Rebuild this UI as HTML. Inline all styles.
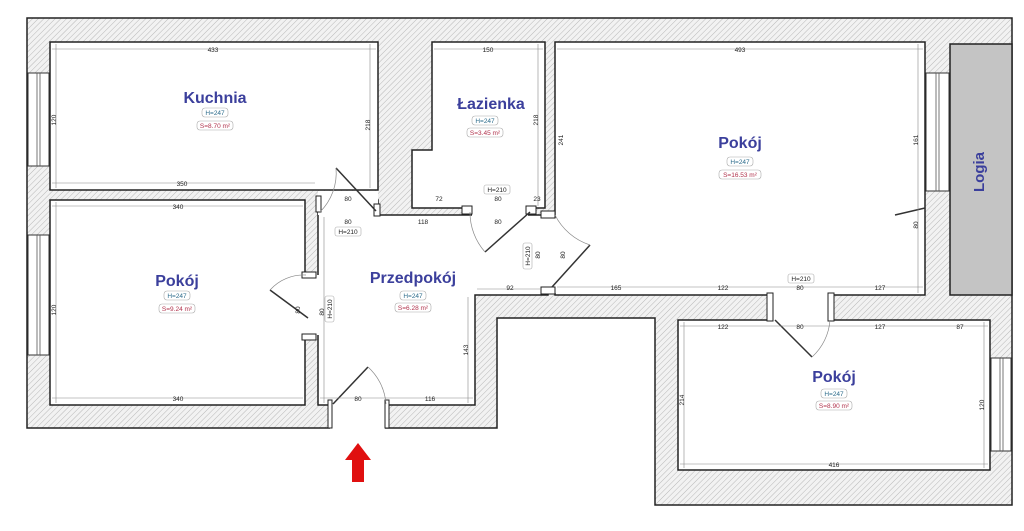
<!DOCTYPE html>
<html><head><meta charset="utf-8"><style>
html,body{margin:0;padding:0;background:#fff;}
svg{display:block}
.n{font-family:"Liberation Sans",sans-serif;font-weight:bold;fill:#3b3f9c;font-size:16px;text-anchor:middle}
.d{font-family:"Liberation Sans",sans-serif;font-size:6.5px;fill:#222;text-anchor:middle}
.h{font-family:"Liberation Sans",sans-serif;font-size:6.5px;fill:#2a6a8a;text-anchor:middle}
.s{font-family:"Liberation Sans",sans-serif;font-size:6.5px;fill:#b0304a;text-anchor:middle}
.dl{stroke:#888;stroke-width:0.6;fill:none}
</style></head><body>
<svg width="1024" height="531" viewBox="0 0 1024 531" xmlns="http://www.w3.org/2000/svg">
<defs>
<pattern id="ht" width="4" height="4" patternUnits="userSpaceOnUse" patternTransform="rotate(45)">
<rect width="4" height="4" fill="#f2f2f2"/><line x1="0" y1="0" x2="0" y2="4" stroke="#b8b8b8" stroke-width="1"/>
</pattern>
</defs>
<rect width="1024" height="531" fill="#fff"/>
<!-- outer walls -->
<polygon points="27,18 1012,18 1012,505 655,505 655,318 497,318 497,428 27,428" fill="url(#ht)" stroke="#222" stroke-width="1.5"/>
<!-- logia -->
<rect x="950" y="44" width="62" height="251" fill="#c4c4c4" stroke="#222" stroke-width="1.5"/>
<text x="984" y="172" transform="rotate(-90 984 172)" class="n" style="fill:#3b3f9c;font-size:15px">Logia</text>
<!-- rooms -->
<g fill="#fff" stroke="#222" stroke-width="1.5">
<rect x="50" y="42" width="328" height="148"/>
<polygon points="432,42 545,42 545,208 412,208 412,150 432,150"/>
<rect x="555" y="42" width="370" height="253"/>
<rect x="50" y="200" width="255" height="205"/>
<polygon points="318,200 378,200 378,215 548,215 548,295 475,295 475,405 318,405"/>
<rect x="678" y="320" width="312" height="150"/>
</g>
<!-- door openings (white gaps) -->
<g fill="#fff">
<rect x="318" y="191" width="60" height="24"/>
<rect x="472" y="206" width="56" height="10"/>
<rect x="540" y="218" width="18" height="75"/>
<rect x="302" y="275" width="20" height="60"/>
<rect x="330" y="400" width="55" height="30"/>
<rect x="770" y="293" width="60" height="30"/>
</g>
<!-- door posts -->
<g fill="#fff" stroke="#222" stroke-width="1">
<rect x="316" y="196" width="5" height="16"/><rect x="374" y="204" width="6" height="12"/>
<rect x="462" y="206" width="10" height="8"/><rect x="526" y="206" width="10" height="8"/>
<rect x="541" y="211" width="14" height="7"/><rect x="541" y="287" width="14" height="7"/>
<rect x="302" y="272" width="14" height="6"/><rect x="302" y="334" width="14" height="6"/>
<rect x="328" y="400" width="4" height="28"/><rect x="385" y="400" width="4" height="28"/>
<rect x="767" y="293" width="6" height="28"/><rect x="828" y="293" width="6" height="28"/>
</g>
<!-- door leaves -->
<g stroke="#333" stroke-width="1.5" fill="none">
<line x1="376" y1="211" x2="336" y2="168"/><line x1="530" y1="212" x2="485" y2="252"/>
<line x1="552" y1="287" x2="590" y2="245"/><line x1="308" y1="318" x2="270" y2="290"/>
<line x1="333" y1="404" x2="368" y2="367"/><line x1="775" y1="320" x2="812" y2="357"/>
<line x1="925" y1="208" x2="895" y2="215"/>
</g>
<g stroke="#888" stroke-width="0.7" fill="none">
<path d="M336,168 A55,55 0 0 1 320,212"/><path d="M485,252 A60,60 0 0 1 470,212"/>
<path d="M590,245 A60,60 0 0 1 555,215"/><path d="M270,290 A45,45 0 0 1 306,275"/>
<path d="M368,367 A55,55 0 0 1 386,404"/><path d="M812,357 A55,55 0 0 0 830,320"/>
</g>
<!-- windows -->
<g fill="#fff" stroke="#333" stroke-width="1">
<rect x="28" y="73" width="21" height="93"/><rect x="28" y="235" width="21" height="120"/>
<rect x="926" y="73" width="23" height="118"/><rect x="991" y="358" width="20" height="93"/>
</g>
<g stroke="#555" stroke-width="0.8">
<line x1="37" y1="73" x2="37" y2="166"/><line x1="40" y1="73" x2="40" y2="166"/>
<line x1="37" y1="235" x2="37" y2="355"/><line x1="40" y1="235" x2="40" y2="355"/>
<line x1="936" y1="73" x2="936" y2="191"/><line x1="939" y1="73" x2="939" y2="191"/>
<line x1="1000" y1="358" x2="1000" y2="451"/><line x1="1003" y1="358" x2="1003" y2="451"/>
</g>
<!-- dimension lines -->
<g class="dl">
<line x1="52" y1="49" x2="376" y2="49"/><line x1="52" y1="183" x2="315" y2="183"/>
<line x1="52" y1="206" x2="303" y2="206"/><line x1="52" y1="398" x2="303" y2="398"/>
<line x1="434" y1="49" x2="543" y2="49"/><line x1="557" y1="49" x2="923" y2="49"/>
<line x1="680" y1="326" x2="988" y2="326"/><line x1="680" y1="464" x2="988" y2="464"/>
<line x1="557" y1="287" x2="923" y2="287"/><line x1="320" y1="398" x2="473" y2="398"/>
<line x1="56" y1="44" x2="56" y2="188"/><line x1="370" y1="44" x2="370" y2="188"/>
<line x1="56" y1="202" x2="56" y2="403"/><line x1="324" y1="217" x2="324" y2="403"/>
<line x1="538" y1="44" x2="538" y2="206"/><line x1="918" y1="44" x2="918" y2="293"/>
<line x1="684" y1="322" x2="684" y2="468"/><line x1="984" y1="322" x2="984" y2="468"/>
<line x1="468" y1="297" x2="468" y2="403"/><line x1="477" y1="289" x2="540" y2="289"/>
</g>
<g class="d">
<text x="213" y="52">433</text><text x="182" y="186">350</text><text x="178" y="209">340</text><text x="178" y="401">340</text>
<text x="488" y="52">150</text><text x="740" y="52">493</text><text x="834" y="467">416</text>
<text x="723" y="329">122</text><text x="800" y="329">80</text><text x="880" y="329">127</text><text x="960" y="329">87</text>
<text x="723" y="290">122</text><text x="800" y="290">80</text><text x="880" y="290">127</text><text x="616" y="290">165</text>
<text x="358" y="401">80</text><text x="430" y="401">116</text><text x="510" y="290">92</text>
<text x="348" y="201">80</text><text x="348" y="224">80</text><text x="423" y="224">118</text><text x="498" y="224">80</text>
<text x="498" y="201">80</text><text x="439" y="201">72</text><text x="537" y="201">23</text>
<text x="56" y="120" transform="rotate(-90 56 120)">120</text>
<text x="56" y="310" transform="rotate(-90 56 310)">120</text>
<text x="370" y="125" transform="rotate(-90 370 125)">218</text>
<text x="538" y="120" transform="rotate(-90 538 120)">218</text>
<text x="918" y="140" transform="rotate(-90 918 140)">161</text>
<text x="684" y="400" transform="rotate(-90 684 400)">214</text>
<text x="984" y="405" transform="rotate(-90 984 405)">120</text>
<text x="468" y="350" transform="rotate(-90 468 350)">143</text>
<text x="563" y="140" transform="rotate(-90 563 140)">241</text>
<text x="324" y="312" transform="rotate(-90 324 312)">80</text>
<text x="300" y="310" transform="rotate(-90 300 310)">80</text>
<text x="565" y="255" transform="rotate(-90 565 255)">80</text>
<text x="540" y="255" transform="rotate(-90 540 255)">80</text>
<text x="918" y="225" transform="rotate(-90 918 225)">80</text>
</g>
<!-- room labels -->
<g>
<text x="215" y="103" class="n">Kuchnia</text>
<rect x="202" y="108" width="26" height="9" rx="3" fill="#fff" stroke="#aaa" stroke-width="0.6"/><text x="215" y="115" class="h">H=247</text>
<rect x="197" y="121" width="36" height="9" rx="3" fill="#fff" stroke="#aaa" stroke-width="0.6"/><text x="215" y="128" class="s">S=8.70 m²</text>

<text x="491" y="109" class="n">Łazienka</text>
<rect x="472" y="116" width="26" height="9" rx="3" fill="#fff" stroke="#aaa" stroke-width="0.6"/><text x="485" y="123" class="h">H=247</text>
<rect x="467" y="128" width="36" height="9" rx="3" fill="#fff" stroke="#aaa" stroke-width="0.6"/><text x="485" y="135" class="s">S=3.45 m²</text>

<text x="740" y="148" class="n">Pokój</text>
<rect x="727" y="157" width="26" height="9" rx="3" fill="#fff" stroke="#aaa" stroke-width="0.6"/><text x="740" y="164" class="h">H=247</text>
<rect x="719" y="170" width="42" height="9" rx="3" fill="#fff" stroke="#aaa" stroke-width="0.6"/><text x="740" y="177" class="s">S=16.53 m²</text>

<text x="177" y="286" class="n">Pokój</text>
<rect x="164" y="291" width="26" height="9" rx="3" fill="#fff" stroke="#aaa" stroke-width="0.6"/><text x="177" y="298" class="h">H=247</text>
<rect x="159" y="304" width="36" height="9" rx="3" fill="#fff" stroke="#aaa" stroke-width="0.6"/><text x="177" y="311" class="s">S=9.24 m²</text>

<text x="413" y="283" class="n">Przedpokój</text>
<rect x="400" y="291" width="26" height="9" rx="3" fill="#fff" stroke="#aaa" stroke-width="0.6"/><text x="413" y="298" class="h">H=247</text>
<rect x="395" y="303" width="36" height="9" rx="3" fill="#fff" stroke="#aaa" stroke-width="0.6"/><text x="413" y="310" class="s">S=6.28 m²</text>

<text x="834" y="382" class="n">Pokój</text>
<rect x="821" y="389" width="26" height="9" rx="3" fill="#fff" stroke="#aaa" stroke-width="0.6"/><text x="834" y="396" class="h">H=247</text>
<rect x="816" y="401" width="36" height="9" rx="3" fill="#fff" stroke="#aaa" stroke-width="0.6"/><text x="834" y="408" class="s">S=8.90 m²</text>
</g>
<!-- H=210 tags -->
<g>
<rect x="484" y="185" width="26" height="9" rx="2" fill="#fff" stroke="#aaa" stroke-width="0.6"/><text x="497" y="192" class="d">H=210</text>
<rect x="335" y="227" width="26" height="9" rx="2" fill="#fff" stroke="#aaa" stroke-width="0.6"/><text x="348" y="234" class="d">H=210</text>
<rect x="788" y="274" width="26" height="9" rx="2" fill="#fff" stroke="#aaa" stroke-width="0.6"/><text x="801" y="281" class="d">H=210</text>
<rect x="325" y="296" width="9" height="26" rx="2" fill="#fff" stroke="#aaa" stroke-width="0.6"/><text x="332" y="309" class="d" transform="rotate(-90 332 309)">H=210</text>
<rect x="523" y="243" width="9" height="26" rx="2" fill="#fff" stroke="#aaa" stroke-width="0.6"/><text x="530" y="256" class="d" transform="rotate(-90 530 256)">H=210</text>
</g>
<!-- entrance arrow -->
<polygon points="358,443 371,460 364,460 364,482 352,482 352,460 345,460" fill="#e01010"/>
</svg>
</body></html>
